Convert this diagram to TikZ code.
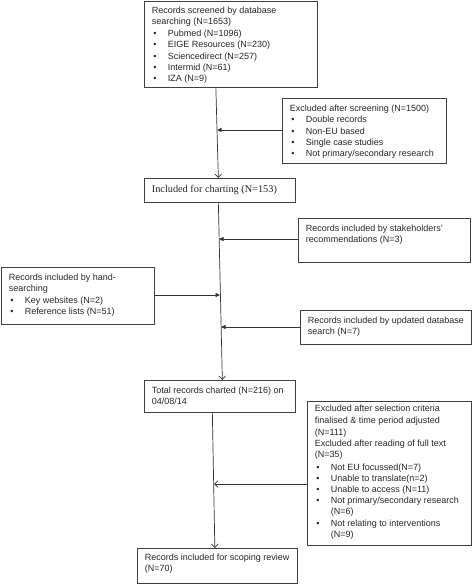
\documentclass[tikz,border=0pt]{standalone}
\usepackage{fontspec}
\setmainfont{Liberation Sans}
\newfontfamily\camfont{Liberation Serif}
\usepackage{tikz}
\usetikzlibrary{arrows.meta}
\newcommand{\itm}{\makebox[16pt][l]{\hspace{1.5pt}\textbullet}}
\newcommand{\ind}{\hspace*{16pt}}
\newcommand{\bx}[4][13.3]{\parbox[c][#3pt][t]{#2pt}{\rule{0pt}{#1pt}#4}}

\begin{document}
\begin{tikzpicture}[x=1pt,y=-1pt,
	box/.style={draw=black!75,line width=0.7pt,anchor=north west,inner xsep=7.5pt,inner ysep=0pt,font=\fontsize{9}{11.2}\selectfont,text=black!85},
	feedarrow/.style={draw=black!80,line width=0.7pt,-{Triangle[length=4.5pt,width=4pt]}},
	downarrow/.style={draw=black!80,line width=0.7pt,-{Straight Barb[length=3.5pt,width=6.5pt]}}]
	\useasboundingbox (0,0) rectangle (472,584);
	\node[box] (scr) at (144,1) {\bx[12.3]{158}{86}{Records screened by database\\ searching (N=1653)\\[0.6pt] \itm Pubmed (N=1096)\\ \itm EIGE Resources (N=230)\\ \itm Sciencedirect (N=257)\\ \itm Intermid (N=61)\\ \itm IZA (N=9)}};
	\node[box] (excl) at (282,98) {\bx{149}{65}{Excluded after screening (N=1500)\\ \itm Double records\\ \itm Non-EU based\\ \itm Single case studies\\ \itm Not primary/secondary research}};
	\node[box,font=\camfont\fontsize{10.3}{12}\selectfont] (chart) at (144,178) {\bx[14]{136}{24}{Included for charting (N=153)}};
	\node[box] (stake) at (298,218) {\bx{157}{44}{Records included by stakeholders'\\ recommendations (N=3)}};
	\node[box] (hand) at (1,267) {\bx{138}{57}{Records included by hand-\\ searching\\ \itm Key websites (N=2)\\ \itm Reference lists (N=51)}};
	\node[box] (upd) at (300,310) {\bx{156}{34}{Records included by updated database\\ search (N=7)}};
	\node[box] (total) at (144,380) {\bx{136}{32}{Total records charted (N=216) on\\ 04/08/14}};
	\node[box] (sel) at (307,401) {\bx[9.8]{149}{144}{Excluded after selection criteria\\[1.5pt] finalised \& time period adjusted\\ (N=111)\\ Excluded after reading of full text\\ (N=35)\\[1.5pt] \itm Not EU focussed(N=7)\\ \itm Unable to translate(n=2)\\ \itm Unable to access (N=11)\\ \itm Not primary/secondary research\\ \ind(N=6)\\ \itm Not relating to interventions\\ \ind(N=9)}};
	\node[box] (scope) at (137,548) {\bx[12.3]{145}{35}{Records included for scoping review\\ (N=70)}};
	\coordinate (j1) at (217,130);
	\coordinate (j2) at (219,239);
	\coordinate (j3) at (220,295);
	\coordinate (j4) at (221,327);
	\coordinate (j5) at (214,484);
	\draw[downarrow] ([xshift=-15pt]scr.south) -- ([xshift=-1.5pt]chart.north);
	\draw[downarrow] ([xshift=-1.5pt]chart.south) -- ([xshift=2.5pt]total.north);
	\draw[downarrow] ([xshift=-7.5pt]total.south) -- ([xshift=-2.5pt]scope.north);
	\draw[feedarrow] (excl.west |- j1) -- (j1);
	\draw[feedarrow] (stake.west |- j2) -- (j2);
	\draw[feedarrow] (hand.east |- j3) -- (j3);
	\draw[feedarrow] (upd.west |- j4) -- (j4);
	\draw[downarrow] (sel.west |- j5) -- (j5);
\end{tikzpicture}
\end{document}
